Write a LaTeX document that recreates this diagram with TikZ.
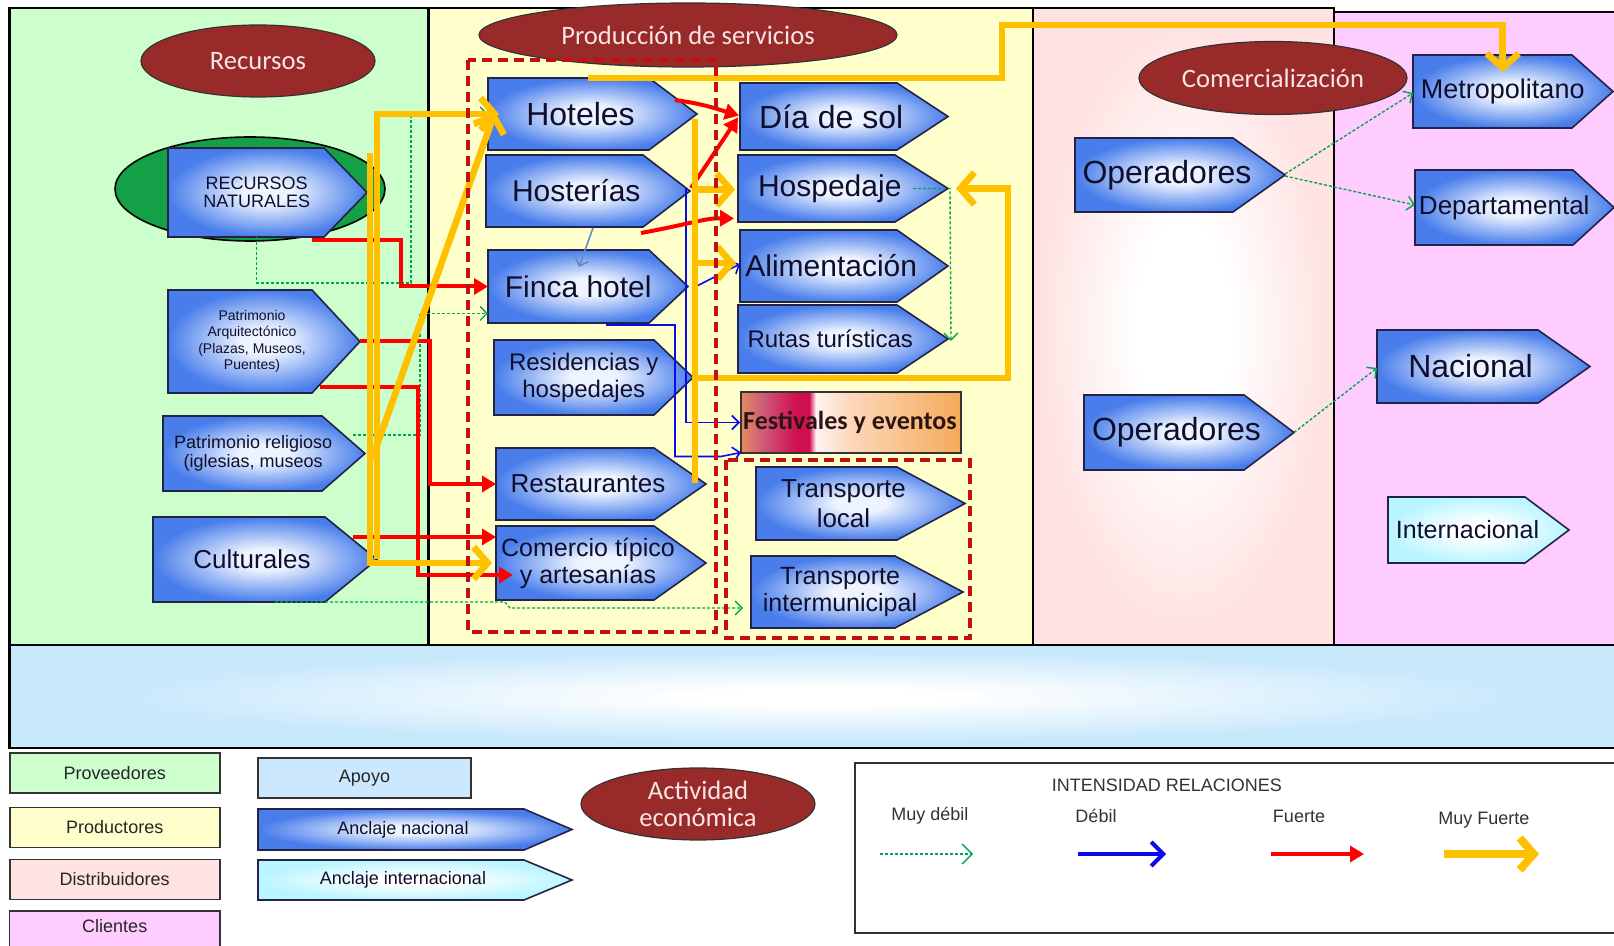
\documentclass[tikz,border=0pt]{standalone}
\usepackage{fontspec}
\setmainfont{Liberation Sans}
\newfontfamily\carl{Carlito}
\usetikzlibrary{shapes.geometric,arrows.meta,calc}
\definecolor{pgreen}{RGB}{204,255,204}
\definecolor{pyellow}{RGB}{255,255,204}
\definecolor{ppink}{RGB}{255,226,226}
\definecolor{pmag}{RGB}{255,204,255}
\definecolor{pband}{RGB}{200,232,252}
\definecolor{ellred}{RGB}{153,42,42}
\definecolor{elltext}{RGB}{248,228,228}
\definecolor{gellipse}{RGB}{20,160,70}
\definecolor{bxout}{RGB}{72,125,235}
\definecolor{bxin}{RGB}{238,244,255}
\definecolor{bxline}{RGB}{35,35,70}
\definecolor{cyout}{RGB}{185,245,255}
\definecolor{apoyo}{RGB}{204,232,255}
\definecolor{myellow}{RGB}{255,192,0}
\definecolor{mred}{RGB}{255,0,0}
\definecolor{mblue}{RGB}{10,10,235}
\definecolor{mgreen}{RGB}{0,165,80}
\definecolor{dashred}{RGB}{195,15,15}
\definecolor{boxtext}{RGB}{15,15,45}
\definecolor{fa}{RGB}{228,140,90}
\definecolor{fb}{RGB}{205,90,120}
\definecolor{fc}{RGB}{208,15,82}
\definecolor{fd}{RGB}{255,242,242}
\definecolor{fe}{RGB}{252,215,185}
\definecolor{ff}{RGB}{245,170,90}
\pgfdeclareradialshading{boxrad}{\pgfpoint{0bp}{0bp}}{color(0bp)=(bxin); color(6bp)=(bxin); color(25bp)=(bxout); color(50bp)=(bxout)}
\pgfdeclareradialshading{cyrad}{\pgfpoint{0bp}{0bp}}{color(0bp)=(white); color(6bp)=(white); color(25bp)=(cyout); color(50bp)=(cyout)}
\pgfdeclareradialshading{pinkrad}{\pgfpoint{0bp}{0bp}}{color(0bp)=(white); color(8bp)=(white); color(24bp)=(ppink); color(50bp)=(ppink)}
\pgfdeclareradialshading{bandrad}{\pgfpoint{0bp}{0bp}}{color(0bp)=(white); color(4bp)=(white); color(22bp)=(pband); color(50bp)=(pband)}
\pgfdeclarehorizontalshading{festsh}{100bp}{color(0bp)=(fa); color(25bp)=(fa); color(30bp)=(fb); color(37.5bp)=(fc); color(40.5bp)=(fc); color(42bp)=(fd); color(50bp)=(fe); color(75bp)=(ff); color(100bp)=(ff)}
% #1 name, #2 x1, #3 y1, #4 xs, #5 xt, #6 y2, #7 style, #8 font, #9 text
\newcommand{\arrowbox}[9]{%
  \path[#7] (#2,#3) -- (#4,#3) -- (#5,{(#3+#6)/2}) -- (#4,#6) -- (#2,#6) -- cycle;
  \node[boxtxt, font=#8] (#1) at ({(2*#2+#4+#5)/4},{(#3+#6)/2}) {#9};
  \coordinate (#1-w) at (#2,{(#3+#6)/2});
  \coordinate (#1-t) at (#5,{(#3+#6)/2});
  \coordinate (#1-nw) at (#2,#3);
  \coordinate (#1-sw) at (#2,#6);
  \coordinate (#1-ne) at (#4,#3);
  \coordinate (#1-se) at (#4,#6);
  \coordinate (#1-b) at ({(2*#2+#4+#5)/4},#6);
  \coordinate (#1-tp) at ({(2*#2+#4+#5)/4},#3);
}
\newcommand{\fs}[2]{\fontsize{#1}{#2}\selectfont}
\begin{document}
\begin{tikzpicture}[x=0.5pt,y=-0.5pt,
  bx/.style={draw=bxline, line width=0.8pt, shade, shading=boxrad},
  cy/.style={draw=bxline, line width=0.8pt, shade, shading=cyrad},
  boxtxt/.style={align=center, inner sep=0pt, text=boxtext},
  ellip/.style={ellipse, draw=black!80, line width=0.6pt, fill=ellred, text=elltext, inner sep=0pt, align=center, font=\carl\fs{13.3}{13.4}},
  legbox/.style={draw=black!80, line width=0.8pt, minimum width=105pt, minimum height=20pt, inner sep=0pt, text=black!85, font=\fs{9}{11}},
  legtxt/.style={inner sep=0pt, text=black!80, font=\fs{9}{11}},
  panel/.style={draw=black, line width=1.1pt},
  vweak/.style={draw=mgreen, line width=0.7pt, dash pattern=on 1.5pt off 1pt, -{Straight Barb[length=3.5pt,width=7pt]}},
  weak/.style={draw=mblue, line width=0.8pt, -{Straight Barb[length=3.5pt,width=7pt]}},
  strong/.style={draw=mred, line width=2pt, -{Triangle[length=7pt,width=8pt]}},
  vstrong/.style={draw=myellow, line width=3.3pt, -{Straight Barb[length=7pt,width=16pt]}},
  grpdash/.style={draw=dashred, line width=1.6pt, dash pattern=on 5pt off 3pt}
]
\useasboundingbox (0,0) rectangle (1614,946);
\clip (0,0) rectangle (1614,946);
\fill[white] (0,0) rectangle (1614,946);
% panels
\path[panel, fill=pgreen] (9.5,8) rectangle (428.5,645);
\path[panel, fill=pyellow] (428.5,8) rectangle (1033,645);
\path[panel, shade, shading=pinkrad] (1033,8) rectangle (1334,645);
\path[panel, fill=pmag] (1334,12) rectangle (1630,645);
\path[panel, shade, shading=bandrad] (9.5,645) rectangle (1630,748);
% ellipses
\node[ellip, minimum width=117pt, minimum height=36pt] (recursos) at (258,61) {Recursos};
\node[ellip, minimum width=209pt, minimum height=32pt] (produccion) at (688,35) {Producción de servicios};
\node[ellip, minimum width=134pt, minimum height=36.5pt] (comerc) at (1273,78) {Comercialización};
\node[ellipse, draw=black, line width=0.8pt, fill=gellipse, minimum width=135pt, minimum height=52pt] (natell) at (250,189) {};
% left column
\arrowbox{rn}{168}{148}{324}{367}{237}{bx}{\fs{9}{9.3}}{RECURSOS\\NATURALES}
\arrowbox{pa}{168}{290}{312}{360}{393}{bx}{\fs{7}{8.2}}{Patrimonio\\Arquitectónico\\(Plazas, Museos,\\Puentes)}
\arrowbox{pr}{163}{416}{322}{365}{491}{bx}{\fs{9}{9.8}}{Patrimonio religioso\\(iglesias, museos}
\arrowbox{cult}{153}{517}{325}{377}{602}{bx}{\fs{13}{15}}{Culturales}
% production
\arrowbox{hot}{488}{78}{649}{697}{150}{bx}{\fs{16}{18}}{Hoteles}
\arrowbox{hos}{486}{155}{643}{690}{227}{bx}{\fs{15}{17}}{Hosterías}
\arrowbox{fin}{488}{250}{649}{688}{323}{bx}{\fs{15}{17}}{Finca hotel}
\arrowbox{res}{494}{340}{654}{693}{415}{bx}{\fs{12}{13.5}}{Residencias y\\hospedajes}
\arrowbox{rest}{496}{448}{654}{706}{520}{bx}{\fs{13}{15}}{Restaurantes}
\arrowbox{com}{496}{526}{654}{706}{600}{bx}{\fs{12.5}{13.4}}{Comercio típico\\y artesanías}
% services
\arrowbox{dia}{740}{83}{897}{948}{150}{bx}{\fs{16}{18}}{Día de sol}
\arrowbox{hosp}{738}{155}{895}{948}{222}{bx}{\fs{15}{17}}{Hospedaje}
\arrowbox{ali}{740}{230}{897}{948}{302}{bx}{\fs{15}{17}}{Alimentación}
\arrowbox{rut}{738}{305}{897}{948}{373}{bx}{\fs{12}{14}}{Rutas turísticas}
\path[draw=black!80, line width=0.8pt, shade, shading=festsh] (741,392) rectangle (961,453);
\node[inner sep=0pt, text={rgb,255:red,45;green,20;blue,20}, font=\carl\bfseries\fs{13}{15}] (fest) at (850,422.5) {Festivales y eventos};
\coordinate (fest-w) at (741,422.5);
\arrowbox{tl}{756}{467}{897}{965}{540}{bx}{\fs{13}{15}}{Transporte\\local}
\arrowbox{ti}{751}{556}{895}{963}{628}{bx}{\fs{12.5}{13.5}}{Transporte\\intermunicipal}
% right side
\arrowbox{op1}{1075}{138}{1233}{1285}{212}{bx}{\fs{16}{18}}{Operadores}
\arrowbox{op2}{1084}{395}{1244}{1294}{470}{bx}{\fs{16}{18}}{Operadores}
\arrowbox{met}{1413}{55}{1572}{1613}{128}{bx}{\fs{13.5}{15}}{Metropolitano}
\arrowbox{dep}{1415}{170}{1573}{1614}{245}{bx}{\fs{13}{15}}{Departamental}
\arrowbox{nac}{1377}{330}{1538}{1590}{403}{bx}{\fs{16}{18}}{Nacional}
\arrowbox{int}{1388}{497}{1525}{1569}{563}{cy}{\fs{12.5}{14}}{Internacional}
% legend (bottom)
\node[legbox, fill=pgreen] (lprov) at (114.75,773) {Proveedores};
\node[legbox, fill=pyellow] (lprod) at (114.75,827.5) {Productores};
\node[legbox, fill=ppink] (ldist) at (114.75,879.5) {Distribuidores};
\path[draw=black!80, line width=0.8pt, fill=pmag] (9.5,911) rectangle (220,960);
\node[legtxt, text=black!85] (lcli) at (114.75,926) {Clientes};
\node[legbox, fill=apoyo, minimum width=106.5pt] (lapoyo) at (364.5,778) {Apoyo};
\arrowbox{lnac}{258}{809}{524}{572}{850}{bx}{\fs{9}{11}}{Anclaje nacional}
\arrowbox{lint}{258}{860}{524}{572}{900}{cy}{\fs{9}{11}}{Anclaje internacional}
\node[ellip, minimum width=117pt, minimum height=36pt] (activ) at (698,804) {Actividad\\económica};
\path[draw=black!80, line width=0.8pt] (855,763) rectangle (1630,933);
\node[legtxt] (lint2) at (1167,785) {INTENSIDAD RELACIONES};
\node[legtxt] (lmd) at (930,816) {Muy débil};
\node[legtxt] (ld) at (1096,816) {Débil};
\node[legtxt] (lf) at (1299,816) {Fuerte};
\node[legtxt] (lmf) at (1484,820) {Muy Fuerte};
\draw[vweak, -{Straight Barb[length=5pt,width=10pt]}] ($(lmd)+(-50,38)$) -- ++(93,0);
\draw[draw=mblue, line width=2pt, -{Straight Barb[length=6pt,width=12pt]}] ($(ld)+(-18,38)$) -- ++(88,0);
\draw[strong] ($(lf)+(-28,38)$) -- ++(93,0);
\draw[vstrong, line width=4pt] ($(lmf)+(-40,34)$) -- ++(95,0);
% ---------------- connectors ----------------
% muy debil
\draw[vweak] (rn-b) |- (411,283) |- (hot-w);
\draw[vweak] ($(pr-ne)+(31,19)$) -| ($(fin-w)+(-68,27)$) -- ($(fin-w)+(0,27)$);
\draw[vweak] ($(cult-sw)+(122,0)$) -- ($(ti-w)+(-246,10)$) -- ($(ti-w)+(-241,16)$) -- ($(ti-w)+(-8,16)$);
\draw[vweak] ($(hosp-t)+(-35,0)$) -- ($(hosp-t)+(2,0)$) -- ($(rut-t)+(3,2)$);
\draw[vweak] ($(op1-t)+(0,-1)$) -- ($(met-w)+(0,1.5)$);
\draw[vweak] ($(op1-t)+(0,1)$) -- ($(dep-w)+(0,-2.5)$);
\draw[vweak] (op2-t) -- ($(nac-w)+(0,1.5)$);
% debil
\draw[weak] ($(hos-t)+(-4,-3)$) |- ($(fest-w)+(-1,0)$);
\draw[weak] ($(fin-sw)+(118,2)$) -| ($(fest-w)+(-66,34)$) -- ($(fest-w)+(-20,34)$) -- ($(fest-w)+(0,30)$);
\draw[weak] ($(fin-t)+(4,2)$) -- ($(ali-w)+(0,-2)$);
\draw[weak, draw={rgb,255:red,100;green,140;blue,200}] ($(hos-sw)+(107,1)$) -- ($(fin-nw)+(91,17)$);
% fuerte
\draw[strong] ($(rn-se)+(-12,3)$) -| ($(fin-w)+(-87,0)$) -- (fin-w);
\draw[strong] (pa-t) -| ($(rest-w)+(-66,0)$) -- (rest-w);
\draw[strong] ($(pa-se)+(8,-6)$) -| ($(com-w)+(-78,12)$) -- ($(com-w)+(17,12)$);
\draw[strong] ($(cult-ne)+(28,20)$) -- ($(com-w)+(0,-26)$);
\draw[strong] ($(hot-ne)+(26,22)$) .. controls (705,104) and (720,110) .. ($(dia-w)+(-1,-1)$);
\draw[strong] ($(hos-t)+(1,-3)$) -- ($(dia-w)+(-2,1)$);
\draw[strong] ($(hos-se)+(-2,6)$) .. controls (690,224) and (705,218) .. ($(hosp-w)+(-4,30)$);
% muy fuerte
\draw[vstrong] ($(rn-t)+(3,-39)$) |- ($(com-w)+(-4,0)$);
\draw[vstrong] (cult-t) |- ($(hot-w)+(11,0)$);
\draw[vstrong] ($(pr-t)+(7,6)$) -- ($(hot-w)+(7,-2)$);
\draw[vstrong] ($(hot-nw)+(100,0)$) -- ($(hot-nw)+(514,0)$) |- ($(met-tp)+(0,-30)$) -- ($(met-tp)+(0,17)$);
\draw[vstrong, -] ($(hot-t)+(-2,5)$) -- ($(rest-t)+(-11,-1)$);
\draw[vstrong] ($(hosp-w)+(-41,1)$) -- ($(hosp-w)+(-3,1)$);
\draw[vstrong] ($(ali-w)+(-43,-3)$) -- ($(ali-w)+(-4,-3)$);
\draw[vstrong] ($(rut-sw)+(-43,5)$) -| ($(hosp-t)+(60,0)$) -- ($(hosp-t)+(8,0)$);
% groups
\draw[grpdash] (468,60) rectangle (716,632);
\draw[grpdash] (726,460) rectangle (970,638);
\end{tikzpicture}
\end{document}
